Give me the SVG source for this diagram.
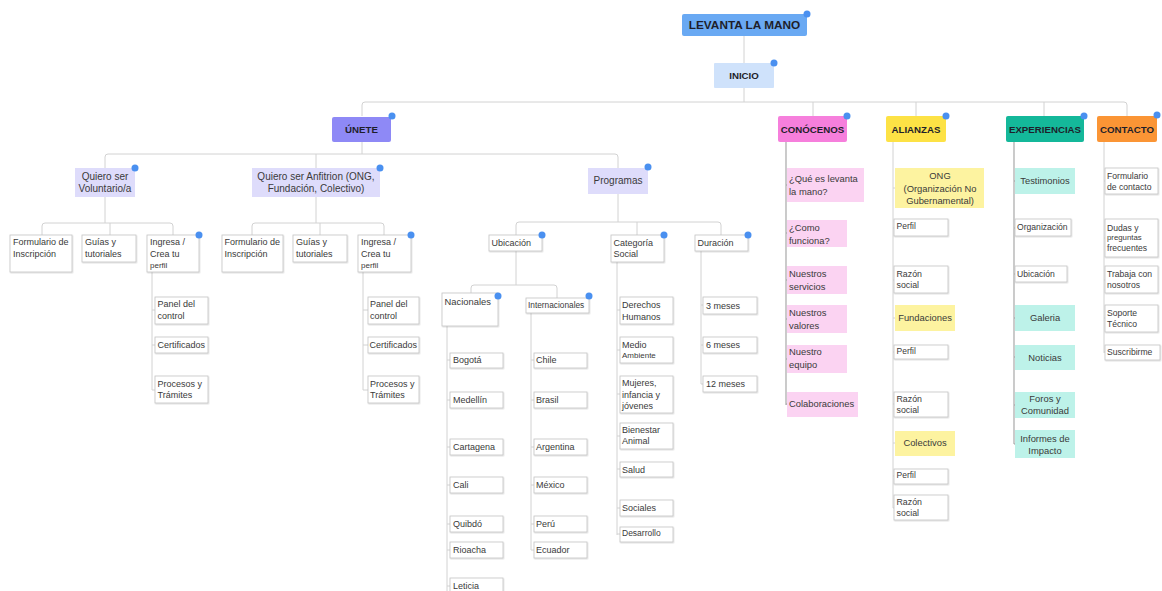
<svg xmlns="http://www.w3.org/2000/svg" width="1162" height="591" viewBox="0 0 1162 591">
<defs>
<filter id="sh" x="-10%" y="-10%" width="130%" height="140%">
<feDropShadow dx="0.6" dy="0.8" stdDeviation="0.6" flood-color="#000" flood-opacity="0.18"/>
</filter>
<style>
text{font-family:"Liberation Sans",Arial,sans-serif;fill:#3a3a3a}
.top{font-weight:bold;font-size:9.7px;fill:#1e1e2a;text-anchor:middle}
.lav{fill:#dedcfb}
.wb{fill:#fff;stroke:#c4c4c4;stroke-width:0.8;filter:url(#sh)}
.pk{fill:#fbd3f2}
.yl{fill:#fdf3a0}
.tl{fill:#bdf2e9}
.t9{font-size:9px}
.t95{font-size:9.4px}
.t10{font-size:10px}
.c{text-anchor:middle}
.bd{fill:#4a90f0}
.ln{fill:none;stroke:#d2d2d2;stroke-width:1}
.dk{fill:none;stroke:#a0a0a0;stroke-width:1.1}
</style>
</defs>
<rect width="1162" height="591" fill="#fff"/>

<g id="connectors">
<path class="ln" d="M744,36 V63 M744,88 V102"/>
<path class="ln" d="M362,116 V105 Q362,102 365,102 H1124 Q1127,102 1127,105 V116 M813,102 V116 M916,102 V116 M1044,102 V116"/>
<path class="ln" d="M362,142 V154 M105,168 V157 Q105,154 108,154 H615 Q618,154 618,157 V168 M316,154 V168"/>
<path class="ln" d="M105,197 V223 M42,235 V226 Q42,223 45,223 H170 Q173,223 173,226 V235 M110,223 V235"/>
<path class="ln" d="M316,197 V223 M252,235 V226 Q252,223 255,223 H381 Q384,223 384,226 V235 M320,223 V235"/>
<path class="ln" d="M618,194 V222 M516,235 V225 Q516,222 519,222 H718 Q721,222 721,225 V235 M637,222 V235"/>
<path class="ln" d="M516,251 V285 M471,293 V288 Q471,285 474,285 H554 Q557,285 557,288 V298"/>
<path class="ln" d="M152,272 V390 M152,310 H155 M152,345 H155 M152,390 H155"/>
<path class="ln" d="M363,272 V390 M363,310 H368 M363,345 H368 M363,390 H368"/>
<path class="ln" d="M447,326 V591 M447,360 H450 M447,400 H450 M447,447 H450 M447,485 H450 M447,524 H450 M447,550 H450 M447,586 H450"/>
<path class="ln" d="M531,313 V550 M531,360 H534 M531,400 H534 M531,447 H534 M531,485 H534 M531,524 H534 M531,550 H534"/>
<path class="ln" d="M617,262 V535 M617,310 H620 M617,350 H620 M617,394 H620 M617,436 H620 M617,469 H620 M617,508 H620 M617,534 H620"/>
<path class="ln" d="M701,251 V384 M701,305 H703 M701,345 H703 M701,384 H703"/>
<path class="dk" d="M786,142 V405 M786,185 H787 M786,233 H787 M786,280 H787 M786,319 H787 M786,359 H787 M786,404 H787"/>
<path class="ln" d="M893,142 V508 M893,188 H895 M893,228 H894 M893,280 H894 M893,318 H895 M893,352 H894 M893,404 H894 M893,443 H895 M893,476 H894 M893,508 H894"/>
<path class="dk" d="M1014,142 V444 M1014,181 H1015 M1014,228 H1015 M1014,274 H1015 M1014,318 H1015 M1014,357 H1015 M1014,405 H1015 M1014,444 H1015"/>
<path class="ln" d="M1104,142 V353 M1104,181 H1105 M1104,238 H1105 M1104,280 H1105 M1104,318 H1105 M1104,352 H1105"/>
</g>

<g id="levanta"><rect x="682" y="14" width="125" height="22" rx="2" fill="#69a9f3"/><text x="744.5" y="29" class="top" style="font-size:11.8px">LEVANTA LA MANO</text><circle class="bd" cx="807" cy="14" r="3.5"/></g>
<g id="inicio"><rect x="714" y="63" width="60" height="25" rx="1" fill="#cfe2fb"/><text x="744" y="79" class="top">INICIO</text><circle class="bd" cx="774" cy="63" r="3.5"/></g>
<g id="unete"><rect x="332" y="117" width="59" height="25" rx="2" fill="#8e89f6"/><text x="361.5" y="133" class="top">ÚNETE</text><circle class="bd" cx="392" cy="116" r="3.5"/></g>
<g id="conocenos"><rect x="778" y="116" width="69" height="26" rx="2" fill="#f67fdc"/><text x="812.5" y="132.5" class="top">CONÓCENOS</text><circle class="bd" cx="847" cy="116" r="3.5"/></g>
<g id="alianzas"><rect x="886" y="116" width="60" height="26" rx="2" fill="#fde245"/><text x="916" y="132.5" class="top">ALIANZAS</text><circle class="bd" cx="946" cy="116" r="3.5"/></g>
<g id="experiencias"><rect x="1006" y="116" width="78" height="26" rx="2" fill="#14b89a"/><text x="1045" y="132.5" class="top">EXPERIENCIAS</text><circle class="bd" cx="1084" cy="116" r="3.5"/></g>
<g id="contacto"><rect x="1097" y="116" width="60" height="26" rx="2" fill="#fb9535"/><text x="1127" y="132.5" class="top">CONTACTO</text><circle class="bd" cx="1157" cy="115" r="3.5"/></g>

<g id="voluntario"><rect class="lav" x="75" y="168" width="60" height="29"/><text class="t10 c" x="105"><tspan x="105" y="179.5">Quiero ser</tspan><tspan x="105" y="191.5">Voluntario/a</tspan></text><circle class="bd" cx="135" cy="168" r="3.5"/></g>
<g id="anfitrion"><rect class="lav" x="252" y="168" width="128" height="29"/><text class="t10 c" x="316"><tspan x="316" y="179.5">Quiero ser Anfitrion (ONG,</tspan><tspan x="316" y="191.5">Fundación, Colectivo)</tspan></text><circle class="bd" cx="380" cy="168" r="3.5"/></g>
<g id="programas"><rect class="lav" x="588" y="168" width="60" height="26"/><text class="t10 c" x="618" y="183.5">Programas</text><circle class="bd" cx="648" cy="167" r="3.5"/></g>

<g id="v-formulario"><rect class="wb" x="10" y="235" width="62" height="37"/><text class="t9"><tspan x="13" y="245">Formulario de</tspan><tspan x="13" y="256.5">Inscripción</tspan></text></g>
<g id="v-guias"><rect class="wb" x="82" y="235" width="54" height="27"/><text class="t9"><tspan x="85" y="245">Guías y</tspan><tspan x="85" y="256.5">tutoriales</tspan></text></g>
<g id="v-ingresa"><rect class="wb" x="147" y="235" width="52" height="37"/><text class="t9"><tspan x="150" y="245">Ingresa /</tspan><tspan x="150" y="256.5">Crea tu</tspan><tspan x="150" y="268" style="font-size:8px">perfil</tspan></text><circle class="bd" cx="199" cy="235" r="3.5"/></g>
<g id="v-panel"><rect class="wb" x="155" y="297" width="53" height="27"/><text class="t9"><tspan x="157.5" y="306.5">Panel del</tspan><tspan x="157.5" y="318.5">control</tspan></text></g>
<g id="v-cert"><rect class="wb" x="155" y="337" width="53" height="16"/><text class="t9" x="157.5" y="347.5">Certificados</text></g>
<g id="v-procesos"><rect class="wb" x="155" y="376" width="53" height="27"/><text class="t9"><tspan x="157.5" y="386.5">Procesos y</tspan><tspan x="157.5" y="397.5">Trámites</tspan></text></g>

<g id="a-formulario"><rect class="wb" x="222" y="235" width="61" height="37"/><text class="t9"><tspan x="224.5" y="245">Formulario de</tspan><tspan x="224.5" y="256.5">Inscripción</tspan></text></g>
<g id="a-guias"><rect class="wb" x="293" y="235" width="54" height="27"/><text class="t9"><tspan x="296" y="245">Guías y</tspan><tspan x="296" y="256.5">tutoriales</tspan></text></g>
<g id="a-ingresa"><rect class="wb" x="358" y="235" width="53" height="37"/><text class="t9"><tspan x="361" y="245">Ingresa /</tspan><tspan x="361" y="256.5">Crea tu</tspan><tspan x="361" y="268" style="font-size:8px">perfil</tspan></text><circle class="bd" cx="411" cy="235" r="3.5"/></g>
<g id="a-panel"><rect class="wb" x="368" y="297" width="51" height="27"/><text class="t9"><tspan x="370" y="306.5">Panel del</tspan><tspan x="370" y="318.5">control</tspan></text></g>
<g id="a-cert"><rect class="wb" x="368" y="337" width="51" height="16"/><text class="t9" x="369.5" y="347.5">Certificados</text></g>
<g id="a-procesos"><rect class="wb" x="368" y="376" width="51" height="27"/><text class="t9"><tspan x="370" y="386.5">Procesos y</tspan><tspan x="370" y="397.5">Trámites</tspan></text></g>

<g id="ubicacion"><rect class="wb" x="489" y="235" width="53" height="16"/><text class="t9" x="491.5" y="245.5">Ubicación</text><circle class="bd" cx="542" cy="235" r="3.5"/></g>
<g id="categoria"><rect class="wb" x="611" y="235" width="53" height="27"/><text class="t9"><tspan x="613.5" y="245.5">Categoría</tspan><tspan x="613.5" y="256.5">Social</tspan></text><circle class="bd" cx="664" cy="235" r="3.5"/></g>
<g id="duracion"><rect class="wb" x="695" y="235" width="53" height="16"/><text class="t9" x="697.5" y="245.5">Duración</text><circle class="bd" cx="748" cy="235" r="3.5"/></g>
<g id="nacionales"><rect class="wb" x="442" y="293" width="56" height="33"/><text class="t95" x="444.5" y="304.5">Nacionales</text><circle class="bd" cx="498" cy="296" r="3.5"/></g>
<g id="internacionales"><rect class="wb" x="526" y="298" width="63" height="15"/><text x="528" y="308" style="font-size:8.3px">Internacionales</text><circle class="bd" cx="589" cy="296" r="3.5"/></g>

<g id="bogota"><rect class="wb" x="450" y="353" width="53" height="15"/><text class="t9" x="453" y="362.5">Bogotá</text></g>
<g id="medellin"><rect class="wb" x="450" y="392" width="53" height="16"/><text class="t9" x="453" y="402.5">Medellín</text></g>
<g id="cartagena"><rect class="wb" x="450" y="439" width="53" height="16"/><text class="t9" x="453" y="449.5">Cartagena</text></g>
<g id="cali"><rect class="wb" x="450" y="477" width="53" height="16"/><text class="t9" x="453" y="487.5">Cali</text></g>
<g id="quibdo"><rect class="wb" x="450" y="516" width="53" height="16"/><text class="t9" x="453" y="526.5">Quibdó</text></g>
<g id="rioacha"><rect class="wb" x="450" y="542" width="53" height="16"/><text class="t9" x="453" y="552.5">Rioacha</text></g>
<g id="leticia"><rect class="wb" x="450" y="578" width="53" height="16"/><text class="t9" x="453" y="589">Leticia</text></g>

<g id="chile"><rect class="wb" x="534" y="353" width="53" height="15"/><text class="t9" x="536" y="362.5">Chile</text></g>
<g id="brasil"><rect class="wb" x="534" y="392" width="53" height="16"/><text class="t9" x="536" y="402.5">Brasil</text></g>
<g id="argentina"><rect class="wb" x="534" y="439" width="53" height="16"/><text class="t9" x="536" y="449.5">Argentina</text></g>
<g id="mexico"><rect class="wb" x="534" y="477" width="53" height="16"/><text class="t9" x="536" y="487.5">México</text></g>
<g id="peru"><rect class="wb" x="534" y="516" width="53" height="16"/><text class="t9" x="536" y="526.5">Perú</text></g>
<g id="ecuador"><rect class="wb" x="534" y="542" width="53" height="16"/><text class="t9" x="536" y="552.5">Ecuador</text></g>

<g id="derechos"><rect class="wb" x="620" y="297" width="53" height="27"/><text class="t9"><tspan x="622" y="307.5">Derechos</tspan><tspan x="622" y="319.5">Humanos</tspan></text></g>
<g id="medio"><rect class="wb" x="620" y="337" width="53" height="26"/><text class="t9"><tspan x="622" y="347.5">Medio</tspan><tspan x="622" y="357.5" style="font-size:8px">Ambiente</tspan></text></g>
<g id="mujeres"><rect class="wb" x="620" y="376" width="53" height="37"/><text class="t9"><tspan x="622" y="385.5">Mujeres,</tspan><tspan x="622" y="397.5">infancia y</tspan><tspan x="622" y="408.5">jóvenes</tspan></text></g>
<g id="bienestar"><rect class="wb" x="620" y="423" width="53" height="26"/><text class="t9"><tspan x="622" y="432.5">Bienestar</tspan><tspan x="622" y="443.5">Animal</tspan></text></g>
<g id="salud"><rect class="wb" x="620" y="462" width="53" height="15"/><text class="t9" x="622" y="472.5">Salud</text></g>
<g id="sociales"><rect class="wb" x="620" y="500" width="53" height="16"/><text class="t9" x="622" y="510.5">Sociales</text></g>
<g id="desarrollo"><rect class="wb" x="620" y="527" width="53" height="15"/><text x="622" y="535.5" style="font-size:8.5px">Desarrollo</text></g>

<g id="tres"><rect class="wb" x="703" y="297" width="54" height="17"/><text class="t9" x="706" y="308.5">3 meses</text></g>
<g id="seis"><rect class="wb" x="703" y="337" width="54" height="16"/><text class="t9" x="706" y="347.5">6 meses</text></g>
<g id="doce"><rect class="wb" x="703" y="376" width="54" height="16"/><text class="t9" x="706" y="386.5">12 meses</text></g>

<g id="que-es"><rect class="pk" x="787" y="168" width="77" height="34"/><text class="t95"><tspan x="789" y="181.5">¿Qué es levanta</tspan><tspan x="789" y="195">la mano?</tspan></text></g>
<g id="como"><rect class="pk" x="787" y="220" width="60" height="27"/><text class="t95"><tspan x="789" y="230.5">¿Como</tspan><tspan x="789" y="243.5">funciona?</tspan></text></g>
<g id="servicios"><rect class="pk" x="787" y="266" width="60" height="28"/><text class="t95"><tspan x="789" y="276.5">Nuestros</tspan><tspan x="789" y="289.5">servicios</tspan></text></g>
<g id="valores"><rect class="pk" x="787" y="305" width="60" height="28"/><text class="t95"><tspan x="789" y="315.5">Nuestros</tspan><tspan x="789" y="328.5">valores</tspan></text></g>
<g id="equipo"><rect class="pk" x="787" y="345" width="60" height="28"/><text class="t95"><tspan x="789" y="355">Nuestro</tspan><tspan x="789" y="367.5">equipo</tspan></text></g>
<g id="colaboraciones"><rect class="pk" x="787" y="392" width="71" height="25"/><text class="t95" x="789" y="406.5">Colaboraciones</text></g>

<g id="ong"><rect class="yl" x="895" y="168" width="89" height="40"/><text class="t95 c"><tspan x="940" y="178.5">ONG</tspan><tspan x="940" y="191.5">(Organización No</tspan><tspan x="940" y="203.5">Gubernamental)</tspan></text></g>
<g id="ong-perfil"><rect class="wb" x="894" y="219" width="54" height="17"/><text x="896.5" y="229" style="font-size:8.5px">Perfil</text></g>
<g id="ong-razon"><rect class="wb" x="894" y="266" width="54" height="27"/><text style="font-size:8.8px"><tspan x="896.5" y="276.5">Razón</tspan><tspan x="896.5" y="287.5">social</tspan></text></g>
<g id="fundaciones"><rect class="yl" x="895" y="305" width="60" height="26"/><text class="t95 c" x="925" y="320.5">Fundaciones</text></g>
<g id="fund-perfil"><rect class="wb" x="894" y="345" width="54" height="14"/><text x="896.5" y="354" style="font-size:8.5px">Perfil</text></g>
<g id="fund-razon"><rect class="wb" x="894" y="392" width="54" height="25"/><text style="font-size:8.8px"><tspan x="896.5" y="401.5">Razón</tspan><tspan x="896.5" y="412.5">social</tspan></text></g>
<g id="colectivos"><rect class="yl" x="895" y="431" width="60" height="25"/><text class="t95 c" x="925" y="445.5">Colectivos</text></g>
<g id="col-perfil"><rect class="wb" x="894" y="469" width="54" height="15"/><text x="896.5" y="478" style="font-size:8.5px">Perfil</text></g>
<g id="col-razon"><rect class="wb" x="894" y="495" width="54" height="25"/><text style="font-size:8.8px"><tspan x="896.5" y="504.5">Razón</tspan><tspan x="896.5" y="515.5">social</tspan></text></g>

<g id="testimonios"><rect class="tl" x="1015" y="168" width="60" height="26"/><text class="t95 c" x="1045" y="183.5">Testimonios</text></g>
<g id="organizacion"><rect class="wb" x="1015" y="219" width="56" height="17"/><text x="1017" y="230" style="font-size:8.6px">Organización</text></g>
<g id="exp-ubicacion"><rect class="wb" x="1015" y="266" width="52" height="16"/><text x="1017" y="276.5" style="font-size:8.6px">Ubicación</text></g>
<g id="galeria"><rect class="tl" x="1015" y="305" width="60" height="26"/><text class="t95 c" x="1045" y="320.5">Galeria</text></g>
<g id="noticias"><rect class="tl" x="1015" y="345" width="60" height="25"/><text class="t95 c" x="1045" y="360.5">Noticias</text></g>
<g id="foros"><rect class="tl" x="1015" y="392" width="60" height="26"/><text class="t95 c"><tspan x="1045" y="401.5">Foros y</tspan><tspan x="1045" y="413.5">Comunidad</tspan></text></g>
<g id="informes"><rect class="tl" x="1015" y="430" width="60" height="28"/><text class="t95 c"><tspan x="1045" y="441.5">Informes de</tspan><tspan x="1045" y="454">Impacto</tspan></text></g>

<g id="c-formulario"><rect class="wb" x="1105" y="168" width="53" height="26"/><text style="font-size:8.6px"><tspan x="1107" y="178.5">Formulario</tspan><tspan x="1107" y="189.5">de contacto</tspan></text></g>
<g id="dudas"><rect class="wb" x="1105" y="219" width="53" height="38"/><text style="font-size:8.6px"><tspan x="1107" y="230.5">Dudas y</tspan><tspan x="1107" y="240" style="font-size:7.8px">preguntas</tspan><tspan x="1107" y="250.5">frecuentes</tspan></text></g>
<g id="trabaja"><rect class="wb" x="1105" y="266" width="53" height="27"/><text style="font-size:8.6px"><tspan x="1107" y="276.5">Trabaja con</tspan><tspan x="1107" y="287.5">nosotros</tspan></text></g>
<g id="soporte"><rect class="wb" x="1105" y="305" width="53" height="27"/><text style="font-size:8.6px"><tspan x="1107" y="315.5">Soporte</tspan><tspan x="1107" y="326.5">Técnico</tspan></text></g>
<g id="suscribirme"><rect class="wb" x="1105" y="345" width="55" height="15"/><text x="1107" y="354.5" style="font-size:8.6px">Suscribirme</text></g>
</svg>
